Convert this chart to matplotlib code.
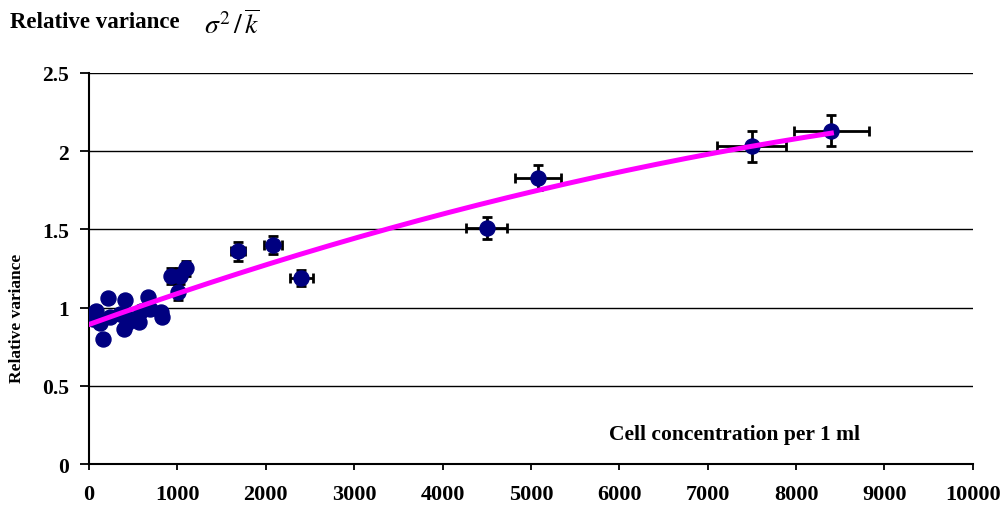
import numpy as np
import matplotlib
matplotlib.use("Agg")
import matplotlib.pyplot as plt

plt.rcParams['font.family'] = ['Liberation Serif', 'DejaVu Serif']
plt.rcParams['mathtext.fontset'] = 'stix'

# Data
conc = [50, 80, 120, 160, 215, 240, 350, 400, 410, 430, 470, 560, 590, 670,
        690, 810, 830, 930, 1010, 1030, 1100, 1690, 2080, 2400, 4500, 5080, 7500, 8400]
rel_var = [0.93, 0.98, 0.90, 0.80, 1.06, 0.94, 0.96, 0.86, 1.05, 0.90, 0.93, 0.91, 0.98, 1.07,
           0.99, 0.97, 0.94, 1.20, 1.10, 1.20, 1.25, 1.36, 1.40, 1.19, 1.51, 1.83, 2.03, 2.13]
conc_err = [25, 25, 25, 25, 30, 30, 35, 35, 35, 35, 35, 40, 40, 40,
            40, 45, 45, 45, 45, 45, 45, 80, 100, 130, 235, 260, 390, 420]
var_err = [0.03, 0.03, 0.03, 0.03, 0.03, 0.03, 0.03, 0.03, 0.03, 0.03, 0.03, 0.03, 0.03, 0.03,
           0.03, 0.03, 0.03, 0.05, 0.05, 0.05, 0.05, 0.06, 0.06, 0.05, 0.07, 0.08, 0.10, 0.10]

x_ticks = [0, 1000, 2000, 3000, 4000, 5000, 6000, 7000, 8000, 9000, 10000]
y_ticks = [0, 0.5, 1, 1.5, 2, 2.5]
y_tick_labels = ['0', '0.5', '1', '1.5', '2', '2.5']

fig = plt.figure(figsize=(10.06, 5.10), dpi=100)
ax = fig.add_axes([0.0885, 0.0882, 0.8785, 0.7668])

for y in y_ticks[1:]:
    ax.axhline(y, color='black', linewidth=1.0, zorder=1)

ax.errorbar(conc, rel_var, xerr=conc_err, yerr=var_err, fmt='o', color='#000080',
            markersize=10.8, ecolor='black', elinewidth=2, capsize=3.6, capthick=2, zorder=3)

# trend line (quadratic least-squares fit of the points)
cx = np.array(conc, dtype=float)
cy = np.array(rel_var, dtype=float)
coef = np.polyfit(cx, cy, 2)
xs = np.linspace(min(conc) - 40, max(conc), 200)
ax.plot(xs, np.polyval(coef, xs), color='#FF00FF', linewidth=3.6, zorder=4)

ax.set_xlim(0, 10000)
ax.set_ylim(0, 2.5)
ax.set_xticks(x_ticks)
ax.set_xticklabels([str(v) for v in x_ticks], fontsize=16, fontweight='bold')
ax.set_yticks(y_ticks)
ax.set_yticklabels(y_tick_labels, fontsize=15.5, fontweight='bold')
ax.tick_params(axis='x', direction='out', length=4.5, width=1.3, color='black', pad=10)
ax.tick_params(axis='y', direction='out', length=6.5, width=1.3, color='black', pad=8)
for s in ['top', 'right']:
    ax.spines[s].set_visible(False)
for s in ['left', 'bottom']:
    ax.spines[s].set_linewidth(1.5)

ax.text(7308, 0.19, 'Cell concentration per 1 ml', fontsize=15.5, fontweight='bold',
        ha='center', va='center')
fig.text(0.017, 0.375, 'Relative variance', rotation=90, fontsize=12.5, fontweight='bold',
         ha='center', va='center')
fig.text(0.01, 0.955, 'Relative variance', fontsize=16.5, fontweight='bold', ha='left', va='center')
fig.text(0.203, 0.95, r'$\sigma^2\,/\,\overline{k}$', fontsize=20, ha='left', va='center')

fig.savefig('out.png', dpi=100)
